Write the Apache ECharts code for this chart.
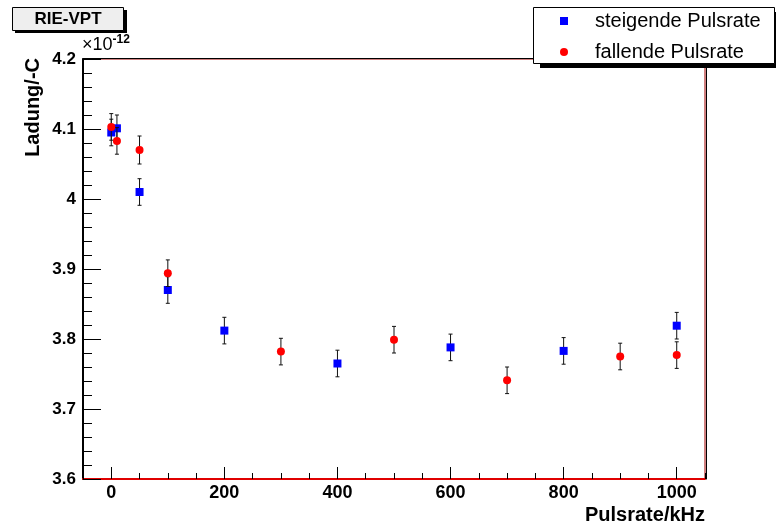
<!DOCTYPE html>
<html>
<head>
<meta charset="utf-8">
<script src="https://cdn.jsdelivr.net/npm/echarts@6/dist/echarts.min.js"></script>
<style>html,body{margin:0;padding:0;background:#fff}#c{width:776px;height:527px}</style>
</head>
<body>
<div id="c"></div>
<script>
// Values in units of 1e-12 C
const xSteigend = [0, 10, 50, 100, 200, 400, 600, 800, 1000];
const ySteigend = [4.095, 4.101, 4.010, 3.870, 3.812, 3.765, 3.788, 3.783, 3.819];
const eSteigend = [0.019, 0.019, 0.019, 0.019, 0.019, 0.019, 0.019, 0.019, 0.019];
const xFallend = [0, 10, 50, 100, 300, 500, 700, 900, 1000];
const yFallend = [4.103, 4.083, 4.070, 3.894, 3.782, 3.799, 3.741, 3.775, 3.777];
const eFallend = [0.019, 0.019, 0.020, 0.019, 0.019, 0.019, 0.019, 0.019, 0.019];
const xMajorTicks = [0, 200, 400, 600, 800, 1000];
const xMinorTicks = [50, 100, 150, 250, 300, 350, 450, 500, 550, 650, 700, 750, 850, 900, 950, 1050, -50];
const yMajorTicks = [3.6, 3.7, 3.8, 3.9, 4.0, 4.1, 4.2];
const yMinorTicks = [3.62, 3.64, 3.66, 3.68, 3.72, 3.74, 3.76, 3.78, 3.82, 3.84, 3.86, 3.88,
  3.92, 3.94, 3.96, 3.98, 4.02, 4.04, 4.06, 4.08, 4.12, 4.14, 4.16, 4.18];
const seriesNames = ['steigende Pulsrate', 'fallende Pulsrate'];

const FONT = '"Liberation Sans", Arial, Helvetica, sans-serif';

function pairs(xs, ys, es) { return xs.map((x, i) => [x, ys[i], es[i]]); }

function errRender(params, api) {
  const x = api.value(0), y = api.value(1), e = api.value(2);
  const top = api.coord([x, y + e]);
  const bot = api.coord([x, y - e]);
  const c = '#111';
  return {
    type: 'group',
    children: [
      { type: 'line', shape: { x1: top[0], y1: top[1], x2: bot[0], y2: bot[1] }, style: { stroke: c, lineWidth: 1 } },
      { type: 'line', shape: { x1: top[0] - 2, y1: top[1], x2: top[0] + 2, y2: top[1] }, style: { stroke: c, lineWidth: 1 } },
      { type: 'line', shape: { x1: bot[0] - 2, y1: bot[1], x2: bot[0] + 2, y2: bot[1] }, style: { stroke: c, lineWidth: 1 } }
    ]
  };
}

const ch = echarts.init(document.getElementById('c'), null, { renderer: 'canvas' });
const yFmt = v => { const s = Number(v).toFixed(1); return s.endsWith('.0') ? s.slice(0, -2) : s; };
const xFmt = v => String(Math.round(v));

ch.setOption({
  animation: false,
  backgroundColor: '#fff',
  grid: { left: 83, top: 59, width: 622, height: 420, show: true, borderColor: '#a00000', borderWidth: 1, backgroundColor: 'transparent', containLabel: false, outerBoundsMode: 'none' },
  xAxis: [
    { type: 'value', min: -50, max: 1050, position: 'bottom',
      axisLine: { show: true, onZero: false, lineStyle: { color: '#e00000', width: 2 } },
      axisTick: { show: true, inside: true, length: 12, customValues: xMajorTicks, lineStyle: { color: '#000', width: 1 } },
      axisLabel: { show: true, customValues: xMajorTicks, formatter: xFmt, margin: 5, color: '#000', fontFamily: FONT, fontWeight: 'bold', fontSize: 18 },
      splitLine: { show: false } },
    { type: 'value', min: -50, max: 1050, position: 'bottom',
      axisLine: { show: false, onZero: false },
      axisTick: { show: true, inside: true, length: 6, customValues: xMinorTicks, lineStyle: { color: '#000', width: 1 } },
      axisLabel: { show: false }, splitLine: { show: false } },
    { type: 'value', min: -50, max: 1050, position: 'top', offset: 1,
      axisLine: { show: true, onZero: false, lineStyle: { color: '#000', width: 1 } },
      axisTick: { show: false }, axisLabel: { show: false }, splitLine: { show: false } }
  ],
  yAxis: [
    { type: 'value', min: 3.6, max: 4.2, position: 'left',
      axisLine: { show: true, onZero: false, lineStyle: { color: '#000', width: 2 } },
      axisTick: { show: true, inside: true, length: 18, customValues: yMajorTicks, lineStyle: { color: '#000', width: 1 } },
      axisLabel: { show: true, customValues: yMajorTicks, margin: 7, color: '#000', fontFamily: FONT, fontWeight: 'bold', fontSize: 17, formatter: yFmt },
      splitLine: { show: false } },
    { type: 'value', min: 3.6, max: 4.2, position: 'left',
      axisLine: { show: false, onZero: false },
      axisTick: { show: true, inside: true, length: 9, customValues: yMinorTicks, lineStyle: { color: '#000', width: 1 } },
      axisLabel: { show: false }, splitLine: { show: false } },
    { type: 'value', min: 3.6, max: 4.2, position: 'right', offset: 1,
      axisLine: { show: true, onZero: false, lineStyle: { color: '#000', width: 1 } },
      axisTick: { show: false }, axisLabel: { show: false }, splitLine: { show: false } }
  ],
  legend: {
    orient: 'vertical', left: 560, top: 9, padding: 0, itemGap: 7, itemWidth: 8, itemHeight: 8, z: 10,
    data: [{ name: seriesNames[0], icon: 'rect' }, { name: seriesNames[1], icon: 'circle' }],
    textStyle: { fontFamily: FONT, fontSize: 20, color: '#000', lineHeight: 24, padding: [0, 0, 0, 22] },
    selectedMode: false
  },
  graphic: [
    { type: 'rect', z: 1, shape: { x: 15, y: 10, width: 112, height: 23 }, style: { fill: '#000' } },
    { type: 'rect', z: 2, shape: { x: 12.5, y: 7.5, width: 111, height: 23 }, style: { fill: '#eeeeee', stroke: '#000', lineWidth: 1 } },
    { type: 'text', z: 3, x: 68, y: 19.5, style: { text: 'RIE-VPT', fill: '#000', font: 'bold 17px ' + FONT, align: 'center', verticalAlign: 'middle' } },
    { type: 'rect', z: 1, shape: { x: 540, y: 12, width: 240, height: 56 }, style: { fill: '#000' } },
    { type: 'rect', z: 2, shape: { x: 533.5, y: 7.5, width: 241, height: 56 }, style: { fill: '#ffffff', stroke: '#000', lineWidth: 1 } },
    { type: 'text', z: 3, x: 82, y: 54, style: { text: '{a|×10}{b|-12}', fill: '#000', align: 'left', verticalAlign: 'bottom',
        rich: { a: { font: '18px ' + FONT, fill: '#000', verticalAlign: 'bottom' }, b: { font: 'bold 12px ' + FONT, fill: '#000', verticalAlign: 'top', padding: [0, 0, 8, 0] } } } },
    { type: 'text', z: 3, x: 705, y: 515, style: { text: 'Pulsrate/kHz', fill: '#000', font: 'bold 20px ' + FONT, align: 'right', verticalAlign: 'middle' } },
    { type: 'text', z: 3, x: 33, y: 58, rotation: Math.PI / 2, style: { text: 'Ladung/-C', fill: '#000', font: 'bold 20px ' + FONT, align: 'right', verticalAlign: 'middle' } }
  ],
  series: [
    { type: 'custom', name: 'err1', xAxisIndex: 0, yAxisIndex: 0, renderItem: errRender, data: pairs(xSteigend, ySteigend, eSteigend), z: 2, silent: true, encode: { x: 0, y: 1 } },
    { type: 'scatter', name: seriesNames[0], xAxisIndex: 0, yAxisIndex: 0, symbol: 'rect', symbolSize: 8, itemStyle: { color: '#0000ff', opacity: 1 }, data: pairs(xSteigend, ySteigend, eSteigend).map(p => [p[0], p[1]]), z: 3 },
    { type: 'custom', name: 'err2', xAxisIndex: 0, yAxisIndex: 0, renderItem: errRender, data: pairs(xFallend, yFallend, eFallend), z: 4, silent: true, encode: { x: 0, y: 1 } },
    { type: 'scatter', name: seriesNames[1], xAxisIndex: 0, yAxisIndex: 0, symbol: 'circle', symbolSize: 8, itemStyle: { color: '#ff0000', opacity: 1 }, data: pairs(xFallend, yFallend, eFallend).map(p => [p[0], p[1]]), z: 5 }
  ]
});
</script>
</body>
</html>
